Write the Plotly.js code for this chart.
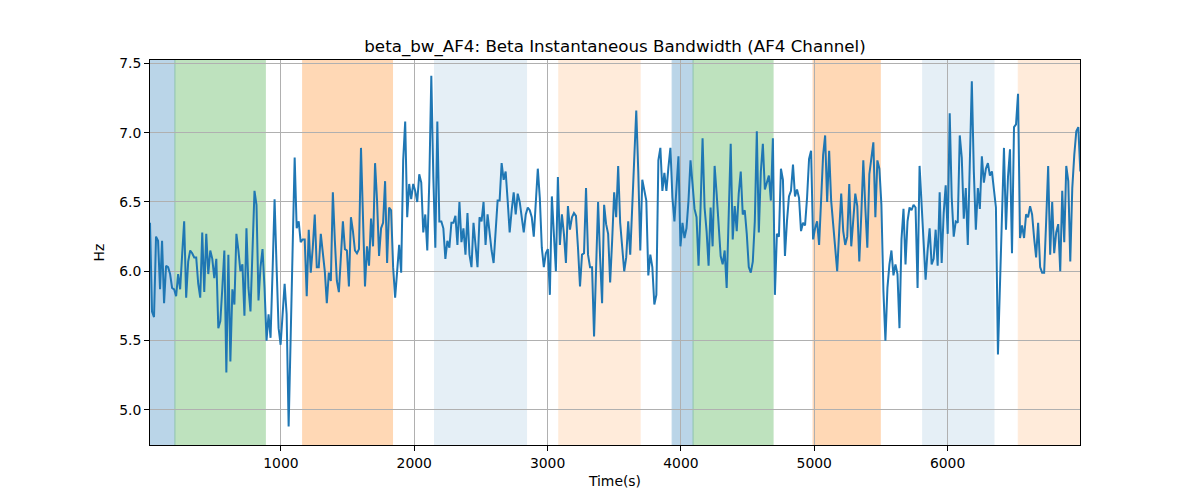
<!DOCTYPE html>
<html>
<head>
<meta charset="utf-8">
<script src="https://cdn.plot.ly/plotly-3.0.1.min.js"></script>
<style>html,body{margin:0;padding:0;background:#fff;}#chart{width:1200px;height:500px;}</style>
</head>
<body>
<div id="chart"></div>
<script>
// Sampling of the time axis (seconds)
const T0 = 18;
const DT = 15.07;

// Beta instantaneous bandwidth values (Hz)
const bandwidthHz = [
  6.35, 5.71, 5.67, 6.25, 6.22, 5.87, 6.22, 5.77, 6.04, 6.03, 5.98, 5.88, 5.87, 5.82, 5.98, 5.87, 6.12, 6.36, 5.81, 6.07,
  6.15, 6.13, 6.10, 6.10, 5.91, 5.81, 6.28, 5.85, 6.27, 5.98, 6.15, 6.09, 5.95, 6.09, 5.59, 5.64, 5.88, 6.15, 5.27, 6.12,
  5.35, 5.87, 5.76, 6.27, 6.15, 6.00, 6.05, 5.68, 6.31,
  5.88, 5.71, 6.12, 6.58, 6.48, 5.79, 6.03, 6.16, 5.88, 5.50, 5.69, 5.52, 6.00, 6.52, 6.03, 5.59, 5.47, 5.69, 5.91, 5.69,
  4.88, 5.52, 6.31, 6.82, 6.31, 6.36, 6.21, 6.23, 6.23, 5.82, 6.30, 5.99, 6.17, 6.41, 6.03, 6.03, 6.27, 6.12, 6.00, 5.77,
  5.99, 5.93, 6.57, 6.22, 5.93, 5.85, 6.12,
  6.36, 6.16, 6.15, 5.89, 6.39, 6.29, 6.15, 6.13, 6.16, 6.89, 6.41, 5.89, 6.18, 6.04, 6.38, 6.18, 6.78, 6.51, 6.11, 6.31,
  6.35, 6.65, 6.06, 6.46, 6.44, 6.03, 5.81, 6.03, 6.19, 5.99, 6.80, 7.08, 6.39, 6.63, 6.52, 6.63, 6.58, 6.50, 6.70, 6.64,
  6.28, 6.41, 6.15, 6.65, 7.41, 6.68, 6.17, 7.08,
  6.36, 6.36, 6.31, 6.09, 6.22, 6.17, 6.35, 6.35, 6.40, 6.19, 6.50, 6.21, 6.31, 6.12, 6.42, 6.12, 6.03, 6.35, 6.19, 6.03,
  6.39, 6.36, 6.50, 6.19, 6.41, 6.27, 6.15, 6.06, 6.31, 6.51, 6.51, 6.78, 6.66, 6.72, 6.51, 6.28, 6.44, 6.57, 6.41, 6.56,
  6.50, 6.38, 6.28, 6.41, 6.46, 6.44, 6.39,
  6.25, 6.51, 6.74, 6.53, 6.17, 6.03, 6.13, 6.16, 5.83, 6.54, 6.27, 6.00, 6.68, 6.19, 6.41, 6.27, 6.06, 6.47, 6.30, 6.39,
  6.42, 6.40, 6.17, 5.89, 6.12, 6.13, 6.60, 6.12, 6.03, 6.03, 5.53, 6.03, 6.50, 6.10, 5.77, 6.48, 6.34, 6.27, 5.92, 6.22,
  6.57, 6.39, 6.76, 6.35, 6.17, 6.00, 6.10, 6.36,
  6.12, 6.44, 6.82, 7.16, 6.72, 6.15, 6.66, 6.58, 6.51, 5.97, 6.12, 6.03, 5.76, 5.83, 6.80, 6.89, 6.58, 6.71, 6.58, 6.75,
  6.89, 6.53, 6.36, 6.60, 6.83, 6.18, 6.35, 6.24, 6.31, 6.51, 6.80, 6.63, 6.45, 6.39, 6.04, 6.46, 6.96, 6.46, 6.29, 6.04,
  6.46, 6.18, 6.76, 6.56, 6.29, 6.11, 6.05,
  6.15, 5.88, 6.35, 6.92, 6.23, 6.47, 6.29, 6.56, 6.72, 6.41, 6.44, 6.27, 6.03, 5.99, 6.07, 6.36, 7.01, 6.28, 6.72, 6.92,
  6.59, 6.64, 6.69, 6.51, 6.96, 5.83, 6.27, 6.25, 6.74, 6.66, 6.11, 6.36, 6.54, 6.58, 6.77, 6.54, 6.59, 6.53, 6.29, 6.35,
  6.33, 6.53, 6.81, 6.87, 6.23, 6.31, 6.36,
  6.19, 6.56, 6.84, 6.98, 6.50, 6.87, 6.51, 6.34, 6.15, 6.00, 6.29, 6.56, 6.29, 6.19, 6.25, 6.63, 6.18, 6.35, 6.56, 6.47,
  6.07, 6.41, 6.80, 6.46, 6.17, 6.70, 6.84, 6.93, 6.39, 6.80, 6.74, 6.48, 5.86, 5.50, 5.88, 6.05, 6.15, 5.97, 6.05, 5.98,
  5.59, 6.23, 6.45, 6.05, 6.36, 6.46, 6.44, 6.48,
  6.46, 5.88, 6.76, 6.46, 6.15, 5.94, 6.15, 6.31, 6.05, 6.09, 6.30, 6.04, 6.57, 6.06, 6.42, 6.62, 6.27, 7.14, 6.53, 6.25,
  6.36, 6.35, 6.98, 6.82, 6.38, 6.60, 6.19, 6.70, 7.37, 6.72, 6.30, 6.60, 6.45, 6.83, 6.64, 6.74, 6.78, 6.69, 6.72, 6.59,
  6.46, 5.40, 5.88, 6.36, 6.89, 6.30, 6.68,
  6.88, 6.13, 7.04, 7.06, 7.28, 6.24, 6.33, 6.24, 6.41, 6.39, 6.47, 6.41, 6.24, 6.10, 6.35, 6.03, 5.99, 5.99, 6.36, 6.76,
  6.12, 6.50, 6.13, 6.28, 6.34, 6.00, 6.58, 6.21, 6.76, 6.65, 6.07, 6.60, 6.84, 7.01, 7.04, 6.72
];
const timeS = bandwidthHz.map((_, i) => T0 + i * DT);

// Shaded segments: start, end, colour, opacity
const segStart = [18, 205, 1163, 2152, 3084, 3934, 4091, 4991, 5813, 6530];
const segEnd   = [205, 883, 1837, 2842, 3694, 4091, 4691, 5495, 6348, 6993];
const segColor = ['#1f77b4', '#2ca02c', '#ff7f0e', '#1f77b4', '#ff7f0e', '#1f77b4', '#2ca02c', '#ff7f0e', '#1f77b4', '#ff7f0e'];
const segAlpha = [0.3, 0.3, 0.3, 0.11, 0.15, 0.3, 0.3, 0.3, 0.11, 0.15];

const xTicks = [1000, 2000, 3000, 4000, 5000, 6000];
const yTicks = [5.0, 5.5, 6.0, 6.5, 7.0, 7.5];
const yTickText = ['5.0', '5.5', '6.0', '6.5', '7.0', '7.5'];

const shapes = segStart.map((s, i) => ({
  type: 'rect', xref: 'x', yref: 'paper', x0: s, x1: segEnd[i], y0: 0, y1: 1,
  fillcolor: segColor[i], opacity: segAlpha[i], layer: 'below',
  line: {color: segColor[i], width: 1}
}));

const font = 'DejaVu Sans, sans-serif';
const layout = {
  width: 1200, height: 500,
  margin: {l: 150, r: 120, t: 60, b: 55},
  paper_bgcolor: '#ffffff', plot_bgcolor: '#ffffff',
  showlegend: false,
  font: {family: font, color: '#000', size: 13.9},
  title: {text: 'beta_bw_AF4: Beta Instantaneous Bandwidth (AF4 Channel)', font: {family: font, size: 16.7, color: '#000'},
          x: 0.5125, xanchor: 'center', y: 0.908, yanchor: 'middle', yref: 'container'},
  xaxis: {
    range: [18, 6993], tickvals: xTicks, ticktext: xTicks.map(String),
    showgrid: true, gridcolor: '#b0b0b0', gridwidth: 1,
    zeroline: false, showline: true, mirror: true, linecolor: '#000', linewidth: 1,
    ticks: 'outside', ticklen: 5, tickcolor: '#000', tickwidth: 1,
    tickfont: {family: font, size: 13.9, color: '#000'},
    title: {text: 'Time(s)', font: {family: font, size: 13.9, color: '#000'}, standoff: 6}
  },
  yaxis: {
    range: [4.747, 7.524], tickvals: yTicks, ticktext: yTickText,
    showgrid: true, gridcolor: '#b0b0b0', gridwidth: 1,
    zeroline: false, showline: true, mirror: true, linecolor: '#000', linewidth: 1,
    ticks: 'outside', ticklen: 5, tickcolor: '#000', tickwidth: 1,
    tickfont: {family: font, size: 13.9, color: '#000'},
    title: {text: 'Hz', font: {family: font, size: 13.9, color: '#000'}, standoff: 11}
  },
  shapes: shapes
};

const trace = {
  x: timeS, y: bandwidthHz, type: 'scatter', mode: 'lines',
  line: {color: '#1f77b4', width: 2}, hoverinfo: 'x+y'
};

Plotly.newPlot('chart', [trace], layout, {staticPlot: true, displayModeBar: false});
</script>
</body>
</html>
